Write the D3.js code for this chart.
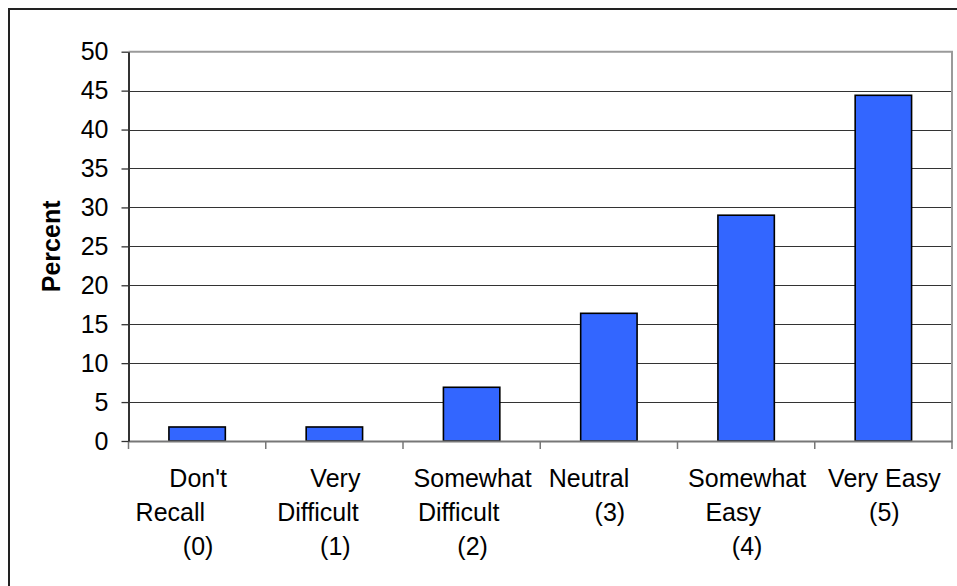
<!DOCTYPE html>
<html>
<head>
<meta charset="utf-8">
<script src="https://cdn.jsdelivr.net/npm/d3@7"></script>
<style>
  html, body { margin: 0; padding: 0; background: #fff; }
  svg { display: block; font-family: "Liberation Sans", Arial, sans-serif; }
</style>
</head>
<body>
<svg id="chart" width="957" height="586"></svg>
<script>
// ---- data ----
const NB = "\u00A0";
const categoryLines = [
  ["Don't", "Recall" + NB.repeat(8), "(0)"],
  ["Very", "Difficult" + NB.repeat(5), "(1)"],
  ["Somewhat", "Difficult" + NB.repeat(4), "(2)"],
  ["Neutral" + NB.repeat(6), "(3)"],
  ["Somewhat", "Easy" + NB.repeat(4), "(4)"],
  ["Very Easy", "(5)"]
];
const categories = ["Don't Recall (0)", "Very Difficult (1)", "Somewhat Difficult (2)", "Neutral (3)", "Somewhat Easy (4)", "Very Easy (5)"];
const percentValues = [1.8, 1.8, 6.9, 16.4, 29.0, 44.4];
const yTicks = [0, 5, 10, 15, 20, 25, 30, 35, 40, 45, 50];
const yAxisTitle = "Percent";

// ---- layout ----
const svg = d3.select("#chart");
const plot = { left: 128.5, right: 952, top: 51.7, bottom: 441 };

const x = d3.scaleBand().domain(categories).range([plot.left, plot.right])
  .paddingInner(0.589).paddingOuter(0.2945);
const xCat = d3.scaleBand().domain(categories).range([plot.left, plot.right]).padding(0);
const y = d3.scaleLinear().domain([0, 50]).range([plot.bottom, plot.top]);

// outer frame (extends beyond the canvas on right/bottom)
svg.append("rect").attr("x", 9).attr("y", 9).attr("width", 1000).attr("height", 1000)
  .attr("fill", "none").attr("stroke", "#222").attr("stroke-width", 2);

// gridlines
svg.append("g").selectAll("line").data(yTicks.filter(d => d > 0 && d < 50)).join("line")
  .attr("x1", plot.left).attr("x2", plot.right)
  .attr("y1", d => Math.round(y(d)) + 0.5).attr("y2", d => Math.round(y(d)) + 0.5)
  .attr("stroke", "#333").attr("stroke-width", 1);

// plot area border top/right (gray)
svg.append("path")
  .attr("d", `M${plot.left},${y(50)}H${plot.right}V${plot.bottom}`)
  .attr("fill", "none").attr("stroke", "#9a9a9a").attr("stroke-width", 2);

// bars
svg.append("g").selectAll("rect").data(percentValues).join("rect")
  .attr("x", (d, i) => x(categories[i]))
  .attr("y", d => y(d))
  .attr("width", x.bandwidth())
  .attr("height", d => y(0) - y(d))
  .attr("fill", "#3366FF").attr("stroke", "#000").attr("stroke-width", 1.6);

// x axis
const xAxis = d3.axisBottom(xCat).tickValues([]).tickSizeOuter(0);
const gx = svg.append("g").attr("transform", `translate(0,${plot.bottom})`).call(xAxis);
gx.select(".domain").attr("stroke", "#777").attr("stroke-width", 1.8);
const boundaries = categories.map(c => xCat(c)).concat([plot.right]);
gx.selectAll("line.bt").data(boundaries).join("line").attr("class", "bt")
  .attr("x1", d => d).attr("x2", d => d).attr("y1", 0).attr("y2", 8)
  .attr("stroke", "#777").attr("stroke-width", 1.5);

// category labels
const lineBaselines = [487.3, 521.2, 555];
const labels = svg.append("g");
categoryLines.forEach((lines, i) => {
  const cx = xCat(categories[i]) + xCat.bandwidth() / 2 + 1;
  lines.forEach((t, j) => {
    labels.append("text")
      .attr("x", cx).attr("y", lineBaselines[j])
      .attr("text-anchor", "middle")
      .attr("font-size", 25).attr("fill", "#000")
      .text(t);
  });
});

// y axis
const yAxis = d3.axisLeft(y).tickValues(yTicks).tickSize(7).tickSizeOuter(0).tickPadding(13);
const gy = svg.append("g").attr("transform", `translate(${plot.left},0)`).call(yAxis);
gy.select(".domain").attr("stroke", "#333").attr("stroke-width", 2);
gy.selectAll(".tick line").attr("stroke", "#333").attr("stroke-width", 1.3);
gy.selectAll(".tick text")
  .attr("font-family", "Liberation Sans, Arial, sans-serif")
  .attr("font-size", 25).attr("fill", "#000")
  .attr("dy", null).attr("y", 8);

// y axis title
svg.append("text")
  .attr("transform", `translate(${60},${(plot.top + plot.bottom) / 2}) rotate(-90)`)
  .attr("text-anchor", "middle")
  .attr("font-size", 25).attr("font-weight", "bold").attr("fill", "#000")
  .text(yAxisTitle);
</script>
</body>
</html>
